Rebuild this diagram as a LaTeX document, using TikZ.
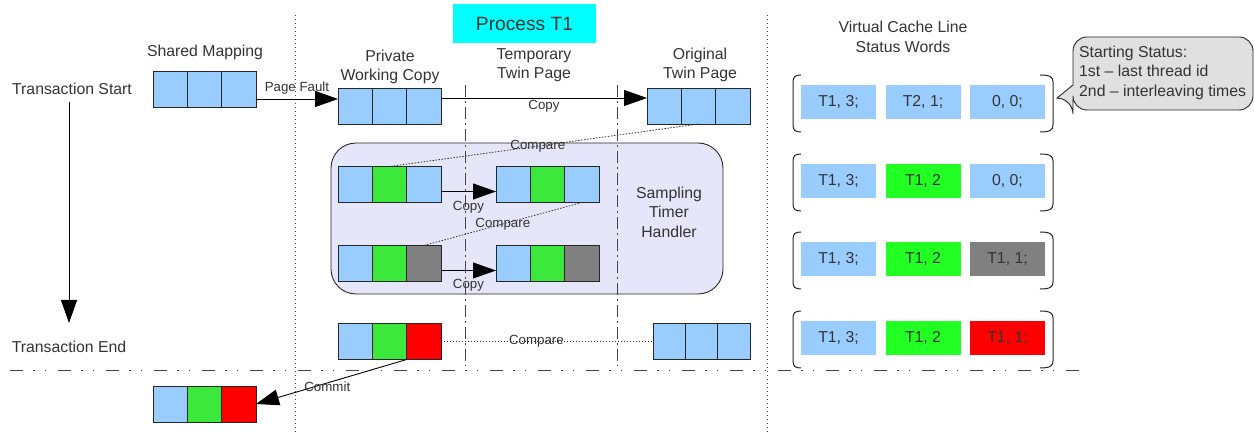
\documentclass[tikz,border=0pt]{standalone}
\usepackage{fontspec}
\setmainfont{Liberation Sans}
\usetikzlibrary{arrows.meta,calc}
\definecolor{cblue}{HTML}{99CCFF}
\definecolor{cgreen}{HTML}{3CE83C}
\definecolor{sgreen}{HTML}{22FF22}
\definecolor{cgray}{HTML}{808080}
\definecolor{cred}{HTML}{FF0000}
\definecolor{txt}{HTML}{333333}
\definecolor{lav}{HTML}{E6E6FA}
\definecolor{cyanbox}{HTML}{00FFFF}
\definecolor{callg}{HTML}{E0E0E0}
\definecolor{lin}{HTML}{444444}
\newcommand\mainf{\fontsize{15.8}{19.5}\selectfont}
\newcommand\smallf{\fontsize{13.3}{16}\selectfont}
\newcommand\titlef{\fontsize{19.2}{23}\selectfont}
\newcommand\pagearr[7][34.33pt]{%
  \node[pcell,minimum width=#1,fill=#5,anchor=north west] (#2a) at (#3,#4) {};
  \node[pcell,minimum width=#1,fill=#6,anchor=north west] (#2b) at (#2a.north east) {};
  \node[pcell,minimum width=#1,fill=#7,anchor=north west] (#2c) at (#2b.north east) {};}
\newcommand\statrow[8]{%
  \node[scell,fill=#3,anchor=north west] (#1a) at (801,#2) {#4};
  \node[scell,fill=#5,anchor=north west] (#1b) at (885.5,#2) {#6};
  \node[scell,fill=#7,anchor=north west] (#1c) at (970,#2) {#8};
  \draw[brk] (801,#2-10) .. controls (795,#2-10) and (793,#2-8) .. (793,#2-3) -- (793,#2+40) .. controls (793,#2+45) and (795,#2+47) .. (801,#2+47);
  \draw[brk] (1040,#2-10) .. controls (1050,#2-10) and (1053,#2-8) .. (1053,#2-3) -- (1053,#2+40) .. controls (1053,#2+45) and (1050,#2+47) .. (1040,#2+47);}
\begin{document}
\begin{tikzpicture}[x=1pt,y=-1pt,
  pcell/.style={draw=black!85,line width=0.9pt,minimum width=34.33pt,minimum height=36pt,inner sep=0pt,outer sep=0pt},
  scell/.style={minimum width=75pt,minimum height=34pt,inner sep=0pt,outer sep=0pt,text=txt,font=\mainf},
  brk/.style={draw=black!85,line width=1pt},
  lbl/.style={text=txt,font=\mainf,align=center,inner sep=0pt},
  slbl/.style={text=txt,font=\smallf,inner sep=0pt},
  arr/.style={draw=black,line width=0.9pt,-{Triangle[length=23pt,width=16pt]}},
  cmp/.style={draw=black!80,line width=0.8pt,dash pattern=on 1.5pt off 1.5pt},
  vdot/.style={draw=lin,line width=1pt,dash pattern=on 1.5pt off 2.5pt},
  vdash/.style={draw=lin,line width=1pt,dash pattern=on 12pt off 4pt on 2pt off 4pt},
  hdash/.style={draw=lin,line width=1pt,dash pattern=on 13pt off 10pt on 1.5pt off 10pt on 1.5pt off 12pt}]
\useasboundingbox (0,0) rectangle (1254,435);

% handler background
\draw[fill=lav,draw=black!85,line width=0.9pt,rounded corners=25pt] (331,143) rectangle (723,294);

% separators
\draw[vdot] (295,15) -- (295,435);
\draw[vdot] (767,15) -- (767,435);
\draw[vdash] (465,85) -- (465,366);
\draw[vdash] (617,85) -- (617,366);
\draw[hdash] (10,371) -- (1080,371);

% title
\node[fill=cyanbox,minimum width=143pt,minimum height=39pt,inner sep=0pt,text=txt,font=\titlef] (title) at (524.5,23.5) {Process T1};

% labels
\node[lbl] (tstart) at (72,89) {Transaction Start};
\node[lbl] (tend) at (69,347) {Transaction End};
\node[lbl] (lsh) at (205,52) {Shared Mapping};
\node[lbl] (lpw) at (390,67) {Private\\Working Copy};
\node[lbl] (ltt) at (534,65) {Temporary\\Twin Page};
\node[lbl] (lot) at (700,65) {Original\\Twin Page};
\node[lbl] (lst) at (669,212) {Sampling\\Timer\\Handler};
\node[lbl] (lvc) at (903,37) {Virtual Cache Line\\Status Words};

% page arrays
\pagearr{sh}{153}{71}{cblue}{cblue}{cblue}
\pagearr{pw}{338}{88}{cblue}{cblue}{cblue}
\pagearr{ot}{647}{88}{cblue}{cblue}{cblue}
\pagearr{ta}{338}{166.5}{cblue}{cgreen}{cblue}
\pagearr{tb}{496}{166.5}{cblue}{cgreen}{cblue}
\pagearr{ua}{338}{245.5}{cblue}{cgreen}{cgray}
\pagearr{ub}{496}{245.5}{cblue}{cgreen}{cgray}
\pagearr{va}{338}{323.5}{cblue}{cgreen}{cred}
\pagearr[32.33pt]{vb}{653}{323.5}{cblue}{cblue}{cblue}
\pagearr{fin}{153}{386}{cblue}{cgreen}{cred}

% timeline
\coordinate (tl1) at ([xshift=-3pt,yshift=-13pt]tstart.center);
\coordinate (tl2) at ([yshift=24pt]tend.center);
\draw[arr] (tl1) -- (tl1 |- tl2);

% page fault
\coordinate (pf) at ([yshift=-10pt]shc.east);
\draw[arr] (pf) -- (pf -| pwa.west) node[slbl,midway,yshift=11pt] {Page Fault};

% copy to original twin
\coordinate (cp1) at ([yshift=8pt]pwc.east);
\draw[arr] (cp1) -- (cp1 -| ota.west) node[slbl,midway,yshift=-8pt] {Copy};

% compare 1
\draw[cmp] (otb.south) -- (tab.north) node[slbl,pos=0.52] {Compare};

% copy 2
\coordinate (cp2) at ([yshift=-7pt]tac.east);
\draw[arr] (cp2) -- (cp2 -| tba.west) node[slbl,midway,yshift=-16pt] {Copy};

% compare 2
\draw[cmp] (tbc.south) -- (uac.north) node[slbl,midway] {Compare};

% copy 3
\coordinate (cp3) at ([yshift=-7pt]uac.east);
\draw[arr] (cp3) -- (cp3 -| uba.west) node[slbl,midway,yshift=-15pt] {Copy};

% compare 4
\draw[cmp] (vac.east) -- (vba.west) node[slbl,pos=0.45] {Compare};

% commit
\draw[arr] (vac.south west) -- (finc.east) node[slbl,pos=0.54,xshift=2pt,yshift=-3pt] {Commit};

% status words
\statrow{ra}{85}{cblue}{T1, 3;}{cblue}{T2, 1;}{cblue}{0, 0;}
\statrow{rb}{164}{cblue}{T1, 3;}{sgreen}{T1, 2}{cblue}{0, 0;}
\statrow{rc}{242}{cblue}{T1, 3;}{sgreen}{T1, 2}{cgray}{T1, 1;}
\statrow{rd}{321}{cblue}{T1, 3;}{sgreen}{T1, 2}{cred}{T1, 1;}

% callout
\draw[fill=callg,draw=black!85,line width=0.9pt] (1057,98) -- (1073,85) [rounded corners=14pt] -- (1073,37) -- (1253,37) -- (1253,110) -- (1073,110) -- (1073,100) [sharp corners] -- cycle;
\node[lbl,align=left,anchor=west] (note) at (1079,72.5) {Starting Status:\\1st -- last thread id\\2nd -- interleaving times};
\end{tikzpicture}
\end{document}
